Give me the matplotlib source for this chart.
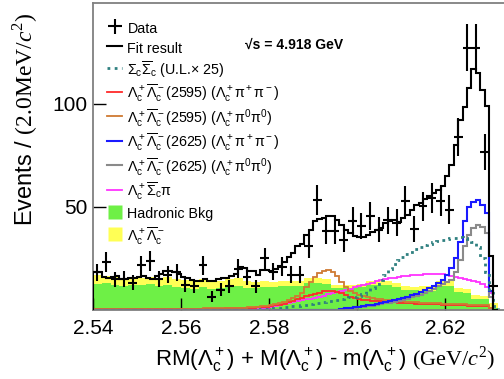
import numpy as np
import matplotlib
matplotlib.use("Agg")
import matplotlib.pyplot as plt
from matplotlib.lines import Line2D

plt.rcParams['font.family'] = ['Liberation Sans', 'DejaVu Sans']
plt.rcParams['mathtext.fontset'] = 'custom'
plt.rcParams['mathtext.rm'] = 'Liberation Sans'
plt.rcParams['mathtext.it'] = 'Liberation Sans:italic'
plt.rcParams['mathtext.sf'] = 'Liberation Sans'
plt.rcParams['mathtext.tt'] = 'Liberation Serif'
plt.rcParams['mathtext.cal'] = 'Liberation Serif:italic'
plt.rcParams['mathtext.default'] = 'rm'

# data points, 2 MeV bins starting at 2.540 GeV
data = [18.1, 23.3, 14.6, 15.0, 13.1, 21.4, 23.5, 15.0, 17.0, 18.0,
        12.1, 11.2, 21.4, 6.3, 9.7, 11.2, 19.9, 16.0, 11.2, 24.8,
        18.4, 20.9, 17.0, 17.0, 30.7, 53.4, 38.0, 38.0, 34.0, 43.2,
        40.4, 45.6, 38.8, 43.3, 42.2, 52.6, 39.3, 50.1, 54.2, 52.6,
        48.5, 83.8, 127.3, 127.3, 76.6, 11.3]

# background fills, 2 MeV bins (yellow = total, green = hadronic)
bkg_total = [17.0, 16.5, 16.0, 15.5, 16.0, 15.5, 16.0, 15.5, 16.0, 15.0,
             14.5, 14.0, 15.0, 14.5, 14.0, 15.0, 15.5, 14.0, 13.5, 14.0,
             13.5, 13.7, 13.7, 14.0, 15.5, 15.4, 15.0, 12.0, 12.0, 12.0,
             12.5, 13.7, 13.7, 13.7, 13.0, 11.5, 11.0, 11.3, 11.3, 14.0,
             13.7, 10.6, 10.0, 7.0, 6.5, 3.0]
hadronic = [12.5, 13.0, 12.0, 11.5, 12.0, 12.0, 12.5, 11.5, 12.0, 11.0,
            10.5, 10.0, 11.0, 10.0, 10.5, 11.0, 11.5, 10.5, 10.5, 11.0,
            11.0, 11.3, 11.3, 11.5, 13.0, 13.0, 12.5, 10.6, 10.6, 10.6,
            10.8, 12.0, 12.0, 12.0, 11.0, 9.7, 9.5, 9.0, 9.0, 11.5,
            11.6, 8.5, 8.1, 5.0, 4.9, 0.5]

# fit curves, 1 MeV steps starting at 2.540 GeV
fit = [18.0, 18.0, 16.0, 15.5, 16.0, 16.5, 15.0, 14.8, 15.5, 15.5,
       16.0, 16.5, 15.5, 15.0, 16.5, 17.5, 18.5, 18.5, 18.0, 17.5,
       16.0, 15.5, 14.5, 13.8, 14.0, 14.6, 14.0, 13.8, 14.6, 15.5,
       15.5, 16.2, 17.5, 20.5, 20.0, 18.6, 18.6, 17.0, 19.4, 19.0,
       18.6, 19.8, 21.0, 23.0, 25.5, 27.5, 30.7, 32.0, 36.4, 38.8,
       42.9, 44.2, 44.7, 45.5, 45.3, 43.7, 41.3, 38.8, 37.4, 35.9,
       35.4, 35.4, 36.4, 37.5, 38.8, 39.8, 42.0, 43.0, 43.7, 42.4,
       44.7, 46.1, 48.5, 51.0, 51.9, 53.5, 55.0, 56.8, 58.3, 60.2,
       64.7, 70.4, 80.0, 92.0, 98.5, 107.8, 116.8, 114.9, 106.8, 98.7,
       26.0, 0.0]
sigma_ul = [0.0, 0.0, 0.0, 0.0, 0.0, 0.0, 0.0, 0.0, 0.0, 0.0,
            0.0, 0.0, 0.0, 0.0, 0.0, 0.0, 0.0, 0.0, 0.0, 0.0,
            0.0, 0.0, 0.0, 0.0, 0.0, 0.0, 0.0, 0.0, 0.0, 0.0,
            0.0, 0.0, 0.0, 0.0, 0.0, 0.0, 0.0, 0.0, 0.2, 0.3,
            0.5, 0.7, 0.9, 1.1, 1.3, 1.5, 1.8, 2.1, 2.4, 2.7,
            3.0, 3.3, 3.6, 3.9, 4.2, 4.6, 5.0, 5.5, 6.0, 6.2,
            6.5, 7.5, 9.0, 10.5, 12.5, 14.5, 17.0, 19.5, 22.0, 24.0,
            25.5, 27.0, 28.0, 29.2, 30.3, 31.2, 32.0, 32.8, 33.5, 34.0,
            34.3, 34.6, 35.0, 35.2, 35.0, 34.5, 33.0, 30.5, 25.0, 18.0,
            8.0, 1.5]
lc2595_pipi = [0.2, 0.2, 0.2, 0.2, 0.2, 0.2, 0.2, 0.2, 0.2, 0.2,
               0.2, 0.2, 0.2, 0.2, 0.2, 0.2, 0.2, 0.2, 0.3, 0.3,
               0.3, 0.3, 0.3, 0.3, 0.3, 0.4, 0.4, 0.4, 0.4, 0.4,
               0.5, 0.5, 0.6, 0.6, 0.7, 0.8, 0.9, 1.0, 1.1, 1.3,
               1.6, 2.0, 2.4, 2.9, 3.5, 4.2, 5.0, 5.7, 6.4, 7.0,
               7.6, 8.2, 8.8, 9.1, 9.0, 8.5, 7.8, 7.0, 6.2, 5.6,
               5.1, 4.8, 4.5, 4.3, 4.1, 4.0, 3.8, 3.7, 3.5, 3.4,
               3.2, 3.1, 3.0, 2.9, 2.8, 2.7, 2.6, 2.5, 2.5, 2.4,
               2.4, 2.3, 2.2, 2.1, 2.0, 1.9, 1.8, 1.7, 1.6, 1.5,
               0.5, 0.0]
lc2595_pi0pi0 = [0.2, 0.2, 0.2, 0.2, 0.2, 0.2, 0.2, 0.2, 0.2, 0.2,
                 0.2, 0.2, 0.2, 0.2, 0.2, 0.2, 0.3, 0.3, 0.3, 0.3,
                 0.3, 0.4, 0.4, 0.4, 0.4, 0.5, 0.5, 0.5, 0.6, 0.6,
                 0.6, 0.7, 0.7, 0.8, 0.9, 1.0, 1.1, 1.3, 1.5, 1.7,
                 2.0, 2.5, 3.0, 3.7, 4.5, 5.5, 6.5, 8.0, 11.0, 13.5,
                 16.0, 17.8, 18.8, 19.0, 18.3, 16.2, 13.5, 11.0, 9.2, 7.8,
                 7.0, 6.4, 6.0, 5.6, 5.3, 5.0, 4.8, 4.6, 4.4, 4.2,
                 4.0, 3.8, 3.6, 3.5, 3.4, 3.3, 3.2, 3.1, 3.0, 2.9,
                 2.8, 2.8, 2.7, 2.6, 2.5, 2.4, 2.4, 2.3, 2.2, 2.1,
                 0.5, 0.0]
lc2625_pipi = [0.0, 0.0, 0.0, 0.0, 0.0, 0.0, 0.0, 0.0, 0.0, 0.0,
               0.0, 0.0, 0.0, 0.0, 0.0, 0.0, 0.0, 0.0, 0.0, 0.0,
               0.0, 0.0, 0.0, 0.0, 0.0, 0.0, 0.0, 0.0, 0.0, 0.0,
               0.0, 0.0, 0.0, 0.0, 0.0, 0.0, 0.0, 0.0, 0.0, 0.0,
               0.0, 0.0, 0.0, 0.0, 0.0, 0.0, 0.0, 0.0, 0.0, 0.0,
               0.0, 0.0, 0.0, 0.0, 0.0, 0.0, 0.3, 0.5, 0.8, 1.0,
               1.3, 1.6, 2.0, 2.4, 2.8, 3.2, 3.6, 4.1, 4.6, 5.1,
               5.7, 6.3, 7.0, 7.7, 8.5, 9.4, 10.4, 11.5, 12.8, 14.3,
               17.0, 20.0, 25.0, 33.0, 43.0, 50.0, 52.5, 53.0, 51.0, 47.0,
               9.0, 0.0]
lc2625_pi0pi0 = [0.0, 0.0, 0.0, 0.0, 0.0, 0.0, 0.0, 0.0, 0.0, 0.0,
                 0.0, 0.0, 0.0, 0.0, 0.0, 0.0, 0.0, 0.0, 0.0, 0.0,
                 0.0, 0.0, 0.0, 0.0, 0.0, 0.0, 0.0, 0.0, 0.0, 0.0,
                 0.0, 0.0, 0.0, 0.0, 0.0, 0.0, 0.0, 0.0, 0.0, 0.0,
                 0.0, 0.0, 0.0, 0.0, 0.0, 0.0, 0.0, 0.0, 0.0, 0.0,
                 0.0, 0.0, 0.0, 0.0, 0.0, 0.0, 0.2, 0.4, 0.6, 0.8,
                 1.0, 1.3, 1.6, 1.9, 2.2, 2.6, 3.0, 3.4, 3.8, 4.3,
                 4.8, 5.3, 5.9, 6.5, 7.2, 8.0, 8.9, 10.0, 11.2, 12.5,
                 13.5, 14.5, 18.0, 24.0, 31.0, 36.0, 39.5, 41.0, 40.0, 37.0,
                 6.0, 0.0]
lc_sigma_pi = [0.0, 0.0, 0.0, 0.0, 0.0, 0.0, 0.0, 0.0, 0.0, 0.0,
               0.0, 0.0, 0.0, 0.0, 0.0, 0.0, 0.0, 0.0, 0.0, 0.0,
               0.0, 0.0, 0.0, 0.0, 0.0, 0.0, 0.0, 0.0, 0.0, 0.0,
               0.0, 0.0, 0.0, 0.0, 0.0, 0.0, 0.2, 0.4, 0.6, 0.8,
               1.1, 1.5, 2.0, 2.5, 3.0, 3.5, 3.9, 4.4, 4.9, 5.3,
               5.8, 6.3, 6.8, 7.3, 7.8, 8.4, 9.0, 9.5, 10.1, 10.7,
               11.3, 11.9, 12.5, 13.1, 13.7, 14.3, 14.7, 15.1, 15.4, 15.8,
               16.1, 16.4, 16.6, 16.8, 17.0, 17.1, 17.2, 17.3, 17.3, 17.1,
               16.8, 16.4, 16.0, 15.5, 15.0, 14.5, 14.0, 13.3, 12.5, 11.0,
               8.0, 0.0]

edges2 = 2.540 + 0.002 * np.arange(len(data) + 1)
centers = 0.5 * (edges2[:-1] + edges2[1:])
edges1 = 2.540 + 0.001 * np.arange(len(fit) + 1)

fig = plt.figure(figsize=(5.04, 3.79), dpi=100)
ax = fig.add_axes([93 / 504, 69.5 / 379, 418 / 504, 306.5 / 379])

ax.stairs(bkg_total, edges2, fill=True, color='#ffff55', zorder=1)
ax.stairs(hadronic, edges2, fill=True, color='#6ef046', zorder=1.1)

ax.stairs(lc_sigma_pi, edges1, color='#ff33ff', lw=1.3, zorder=2)
ax.stairs(lc2595_pipi, edges1, color='#ff2a2a', lw=1.3, zorder=2)
ax.stairs(lc2595_pi0pi0, edges1, color='#cf7a32', lw=1.3, zorder=2)
ax.stairs(lc2625_pi0pi0, edges1, color='#8a8a8a', lw=1.5, zorder=2)
ax.stairs(lc2625_pipi, edges1, color='#1a1aff', lw=1.5, zorder=2.1)
ax.stairs(sigma_ul, edges1, color='#2f8080', lw=2.0, ls=(0, (1, 1.6)), zorder=2.2)
ax.stairs(fit, edges1, color='k', lw=1.5, zorder=3)

eb = ax.errorbar(centers, data, xerr=0.001, yerr=np.sqrt(data), fmt='none',
                 ecolor='k', elinewidth=1.5, capsize=0, zorder=4)

ax.set_xlim(2.54, 2.635)
ax.set_ylim(0, 149)
ax.set_xticks([2.54, 2.56, 2.58, 2.60, 2.62])
ax.set_xticklabels(['2.54', '2.56', '2.58', '2.6', '2.62'])
ax.set_yticks([50, 100])
ax.tick_params(direction='in', length=9, width=1.0, labelsize=15,
               top=False, right=False)
ax.tick_params(axis='x', pad=7)
ax.tick_params(axis='y', pad=4)
for s in ax.spines.values():
    s.set_color('#808080')
    s.set_linewidth(1.3)

ax.set_xlabel(r"RM($\Lambda_c^+$) + M($\Lambda_c^+$) - m($\Lambda_c^+$) "
              r"$\mathtt{(GeV/}\mathcal{c}^{\mathtt{2}}\mathtt{)}$",
              fontsize=16, va='center')
ax.set_ylabel(r"Events / $\mathtt{(2.0MeV/}\mathcal{c}^{\mathtt{2}}\mathtt{)}$",
              fontsize=17, va='center')
ax.xaxis.set_label_coords(0.555, -0.163)
ax.yaxis.set_label_coords(-0.163, 0.62)

ax.text(0.364, 0.863, "√s = 4.918 GeV", transform=ax.transAxes, fontsize=10,
        fontweight='bold', ha='left', va='center')

handles = [
    eb,
    Line2D([], [], color='k', lw=1.5),
    Line2D([], [], color='#2f8080', lw=2.0, ls=(0, (1, 1.6))),
    Line2D([], [], color='#ff2a2a', lw=1.3),
    Line2D([], [], color='#cf7a32', lw=1.3),
    Line2D([], [], color='#1a1aff', lw=1.5),
    Line2D([], [], color='#8a8a8a', lw=1.5),
    Line2D([], [], color='#ff33ff', lw=1.3),
    Line2D([], [], ls='none', marker='s', ms=10.5, mfc='#6ef046', mec='none'),
    Line2D([], [], ls='none', marker='s', ms=10.5, mfc='#ffff55', mec='none'),
]
labels = [
    "Data",
    "Fit result",
    r"$\Sigma_c\overline{\Sigma}_c$ (U.L.$\times$ 25)",
    r"$\Lambda_c^+\overline{\Lambda}_c^-(2595)\ (\Lambda_c^+\pi^+\pi^-)$",
    r"$\Lambda_c^+\overline{\Lambda}_c^-(2595)\ (\Lambda_c^+\pi^0\pi^0)$",
    r"$\Lambda_c^+\overline{\Lambda}_c^-(2625)\ (\Lambda_c^+\pi^+\pi^-)$",
    r"$\Lambda_c^+\overline{\Lambda}_c^-(2625)\ (\Lambda_c^+\pi^0\pi^0)$",
    r"$\Lambda_c^+\overline{\Sigma}_c\pi$",
    "Hadronic Bkg",
    r"$\Lambda_c^+\overline{\Lambda}_c^-$",
]
ax.legend(handles, labels, loc='upper left', bbox_to_anchor=(0.0335, 0.945),
          frameon=False, fontsize=10.3, borderpad=0, borderaxespad=0,
          handlelength=1.08, handleheight=1.45, handletextpad=0.35,
          labelspacing=0.2)

fig.savefig("out.png", dpi=100)
